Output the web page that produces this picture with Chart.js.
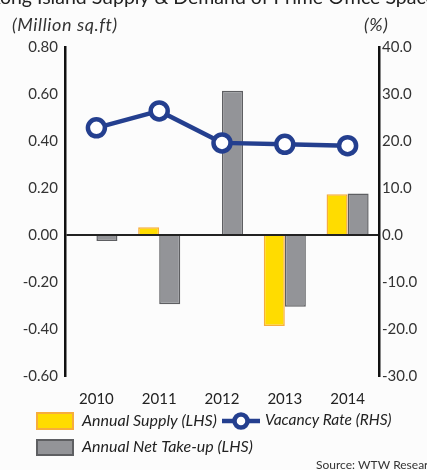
<!DOCTYPE html>
<html>
<head>
<meta charset="utf-8">
<script src="https://cdn.jsdelivr.net/npm/chart.js@4.4.0/dist/chart.umd.min.js"></script>
<style>
  html, body { margin: 0; padding: 0; background: #fcfcfc; }
  #wrap { position: relative; width: 427px; height: 470px; overflow: hidden; }
</style>
</head>
<body>
<div id="wrap"><canvas id="c" width="427" height="470"></canvas></div>
<script>
const categories = ['2010', '2011', '2012', '2013', '2014'];
const annualSupply = [null, 0.033, null, -0.387, 0.173];
const annualNetTakeUp = [-0.026, -0.295, 0.614, -0.305, 0.177];
const vacancyRate = [22.8, 26.4, 19.6, 19.3, 19.0];
const leftTicks = [-0.6, 0.8, 0.2];
const rightTicks = [-30, 40, 10];

const FONT = 'Lato, "Noto Sans", sans-serif';
const YELLOW = '#ffdc00', YELLOW_B = '#f7ad3c';
const GRAY = '#939498', GRAY_B = '#5e5f62';
const BLUE = '#243f8f';

const extras = {
  id: 'extras',
  afterDraw(chart) {
    const ctx = chart.ctx;
    ctx.save();
    // cut title
    ctx.fillStyle = '#222';
    ctx.font = '19.5px ' + FONT;
    ctx.textBaseline = 'alphabetic';
    ctx.textAlign = 'left';
    const pre = 'Hong Kong ';
    const tx = 37 - ctx.measureText(pre).width;
    ctx.fillText('Hong Kong Island Supply & Demand of Prime Office Space', tx, 3.5);
    // axis titles
    ctx.fillStyle = '#333';
    ctx.font = 'italic 18px ' + FONT;
    ctx.textBaseline = 'middle';
    if ('letterSpacing' in ctx) ctx.letterSpacing = '0.6px';
    ctx.fillText('(Million sq.ft)', 12, 25);
    ctx.fillText('(%)', 364, 25);
    if ('letterSpacing' in ctx) ctx.letterSpacing = '0px';
    // legend
    ctx.lineWidth = 2;
    ctx.fillStyle = YELLOW; ctx.strokeStyle = YELLOW_B;
    ctx.fillRect(37, 413, 36, 16); ctx.strokeRect(37, 413, 36, 16);
    ctx.fillStyle = GRAY; ctx.strokeStyle = GRAY_B;
    ctx.fillRect(37, 440, 36, 15); ctx.strokeRect(37, 440, 36, 15);
    ctx.fillStyle = '#222';
    ctx.font = 'italic 16px ' + FONT;
    ctx.fillText('Annual Supply (LHS)', 82, 421);
    ctx.fillText('Annual Net Take-up (LHS)', 82, 447);
    ctx.font = 'italic 15.5px ' + FONT;
    ctx.fillText('Vacancy Rate (RHS)', 265, 420);
    // line marker
    ctx.strokeStyle = BLUE; ctx.lineWidth = 4.5;
    ctx.beginPath(); ctx.moveTo(222, 421); ctx.lineTo(260, 421); ctx.stroke();
    ctx.beginPath(); ctx.arc(241, 421, 6.5, 0, Math.PI * 2);
    ctx.fillStyle = '#fff'; ctx.fill(); ctx.stroke();
    // source
    ctx.fillStyle = '#333';
    ctx.font = '12px ' + FONT;
    ctx.fillText('Source: WTW Research', 316, 465);
    ctx.restore();
  }
};

new Chart(document.getElementById('c'), {
  type: 'bar',
  data: {
    labels: categories,
    datasets: [
      {
        type: 'line', label: 'Vacancy Rate (RHS)', data: vacancyRate, yAxisID: 'y1', order: 0,
        borderColor: BLUE, borderWidth: 4.5, pointRadius: 8.5, pointHoverRadius: 8.5,
        pointBorderWidth: 4.5, pointBackgroundColor: '#fff', pointBorderColor: BLUE, tension: 0
      },
      {
        label: 'Annual Supply (LHS)', data: annualSupply, yAxisID: 'y', order: 1,
        backgroundColor: YELLOW, borderColor: YELLOW_B, borderWidth: 1.5,
        categoryPercentage: 0.67, barPercentage: 1.0
      },
      {
        label: 'Annual Net Take-up (LHS)', data: annualNetTakeUp, yAxisID: 'y', order: 2,
        backgroundColor: GRAY, borderColor: GRAY_B, borderWidth: 1.5,
        categoryPercentage: 0.67, barPercentage: 1.0
      }
    ]
  },
  options: {
    responsive: false,
    animation: false,
    devicePixelRatio: 1,
    layout: { padding: { top: 47, left: 0, right: 0, bottom: 0 } },
    plugins: { legend: { display: false }, title: { display: false }, tooltip: { enabled: false } },
    scales: {
      x: {
        offset: true,
        grid: { display: false },
        border: { display: false },
        ticks: { color: '#222', font: { family: FONT, size: 15 }, padding: 6 },
        afterFit(s) { s.height = 94; }
      },
      y: {
        position: 'left',
        min: leftTicks[0], max: leftTicks[1],
        ticks: {
          stepSize: leftTicks[2], color: '#333', font: { family: FONT, size: 15 }, padding: 7,
          callback: v => (Math.abs(v) < 1e-9 ? 0 : v).toFixed(2)
        },
        border: { display: true, color: '#111', width: 2.5 },
        grid: {
          drawTicks: false,
          color: c => (c.tick && Math.abs(c.tick.value) < 1e-9) ? '#222' : 'rgba(0,0,0,0)',
          lineWidth: 2
        },
        afterFit(s) { s.width = 65; }
      },
      y1: {
        position: 'right',
        min: rightTicks[0], max: rightTicks[1],
        ticks: {
          stepSize: rightTicks[2], color: '#333', font: { family: FONT, size: 15 }, padding: 3,
          callback: v => (Math.abs(v) < 1e-9 ? 0 : v).toFixed(1)
        },
        border: { display: true, color: '#111', width: 2.5 },
        grid: { display: false, drawTicks: false },
        afterFit(s) { s.width = 48; }
      }
    }
  },
  plugins: [extras]
});
</script>
</body>
</html>
